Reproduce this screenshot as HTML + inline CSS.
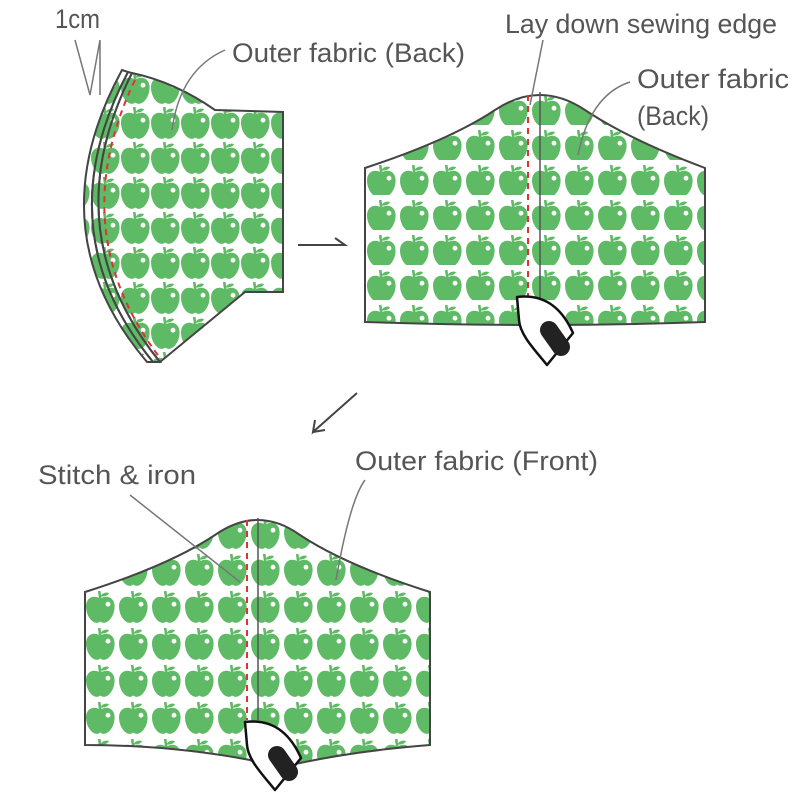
<!DOCTYPE html>
<html><head><style>
html,body{margin:0;padding:0;background:#fff;}
svg{display:block}
text{font-family:"Liberation Sans Narrow","Liberation Sans",sans-serif;font-size:27px;fill:#555;}
</style></head><body>
<svg width="800" height="800" viewBox="0 0 800 800" xmlns="http://www.w3.org/2000/svg">
<defs>
<g id="apple0">
<path d="M13 7 C7 3 0 6 0 14 C0 22 5 29 10 29 C12 29 12 28 13 28 C14 28 14 29 16 29 C21 29 26 22 26 14 C26 6 19 3 13 7 Z" fill="#5fba66"/>
<path d="M13 7 L12 0" stroke="#5fba66" stroke-width="2.4"/>
<path d="M13 5 C15 1 19 1 21 2 C19 5 16 5 13 5Z" fill="#5fba66"/>
<circle cx="20" cy="12" r="2.2" fill="#fff"/>
</g>
<g id="apple"><use href="#apple0" transform="scale(1.1)"/></g>
<pattern id="p1" x="0" y="0" width="30" height="35" patternUnits="userSpaceOnUse"><use href="#apple" x="1" y="2"/></pattern>
<pattern id="p2" x="366" y="160" width="33" height="35" patternUnits="userSpaceOnUse"><use href="#apple" x="1" y="5"/></pattern>
<pattern id="p3" x="85" y="550" width="33" height="37" patternUnits="userSpaceOnUse"><use href="#apple" x="1" y="4"/></pattern>
</defs>

<!-- piece 1 layers -->
<path d="M147 362 Q35 230 122 70 L128 72 Q45 230 153 362 Z" fill="url(#p1)" stroke="#444" stroke-width="2"/>
<path d="M153 362 Q45 230 128 72 L132 73 Q53 230 160 362 Z" fill="url(#p1)" stroke="#444" stroke-width="2"/>
<path d="M132 73 Q175 82 215 110 L283 112 L283 292 L245 292 L160 362 Q53 230 132 73 Z" fill="url(#p1)" stroke="#444" stroke-width="2"/>
<path d="M135 80 Q63 230 160 358" fill="none" stroke="#d33" stroke-width="2" stroke-dasharray="6,5"/>
<path d="M90 95 L75 40 M90 95 L100 40 M100 95 L100 40" stroke="#777" stroke-width="1.5" fill="none"/>
<text x="55" y="28" textLength="45" lengthAdjust="spacingAndGlyphs">1cm</text>
<path d="M172 130 Q180 70 225 50" stroke="#777" stroke-width="1.5" fill="none"/>
<text x="232" y="62" textLength="233" lengthAdjust="spacingAndGlyphs">Outer fabric (Back)</text>

<!-- arrow 1 -->
<path d="M298 245 L345 245 L335 238" stroke="#444" stroke-width="2" fill="none"/>

<!-- piece 2 -->
<path d="M365 168 Q450 140 495 110 Q540 80 585 110 Q630 140 705 168 L705 322 Q540 328 365 322 Z" fill="url(#p2)" stroke="#444" stroke-width="2"/>
<line x1="540" y1="92" x2="540" y2="300" stroke="#555" stroke-width="1.5"/>
<line x1="528" y1="95" x2="528" y2="300" stroke="#d33" stroke-width="2" stroke-dasharray="6,5"/>
<path d="M530 105 L543 40" stroke="#777" stroke-width="1.5"/>
<text x="505" y="33" textLength="272" lengthAdjust="spacingAndGlyphs">Lay down sewing edge</text>
<path d="M578 155 Q590 95 630 82" stroke="#777" stroke-width="1.5" fill="none"/>
<text x="637" y="88" textLength="152" lengthAdjust="spacingAndGlyphs">Outer fabric</text>
<text x="637" y="125" textLength="72" lengthAdjust="spacingAndGlyphs">(Back)</text>
<!-- iron 2 -->
<path d="M517 297 C550 293 565 315 573 333 L547 365 C535 350 520 335 519 320 Z" fill="#fff" stroke="#111" stroke-width="2.5" stroke-linejoin="round"/>
<line x1="549" y1="330" x2="561" y2="347" stroke="#222" stroke-width="18" stroke-linecap="round"/>

<!-- arrow 2 -->
<path d="M357 393 L313 432 L315 420 M313 432 L325 430" stroke="#444" stroke-width="2" fill="none"/>

<!-- piece 3 -->
<path d="M85 592 Q170 565 215 535 Q258 505 300 535 Q345 565 430 592 L430 745 Q340 752 270 770 L250 760 Q170 745 85 745 Z" fill="url(#p3)" stroke="#444" stroke-width="2"/>
<line x1="258" y1="518" x2="258" y2="720" stroke="#555" stroke-width="1.5"/>
<line x1="247" y1="520" x2="247" y2="720" stroke="#d33" stroke-width="2" stroke-dasharray="6,5"/>
<path d="M240 582 L130 495" stroke="#777" stroke-width="1.5"/>
<text x="38" y="484" textLength="158" lengthAdjust="spacingAndGlyphs">Stitch &amp; iron</text>
<path d="M336 580 Q350 500 365 480" stroke="#777" stroke-width="1.5" fill="none"/>
<text x="355" y="470" textLength="243" lengthAdjust="spacingAndGlyphs">Outer fabric (Front)</text>
<!-- iron 3 -->
<path d="M245 722 C278 718 293 740 301 758 L275 790 C263 775 248 760 247 745 Z" fill="#fff" stroke="#111" stroke-width="2.5" stroke-linejoin="round"/>
<line x1="277" y1="755" x2="289" y2="772" stroke="#222" stroke-width="18" stroke-linecap="round"/>
</svg>
</body></html>
